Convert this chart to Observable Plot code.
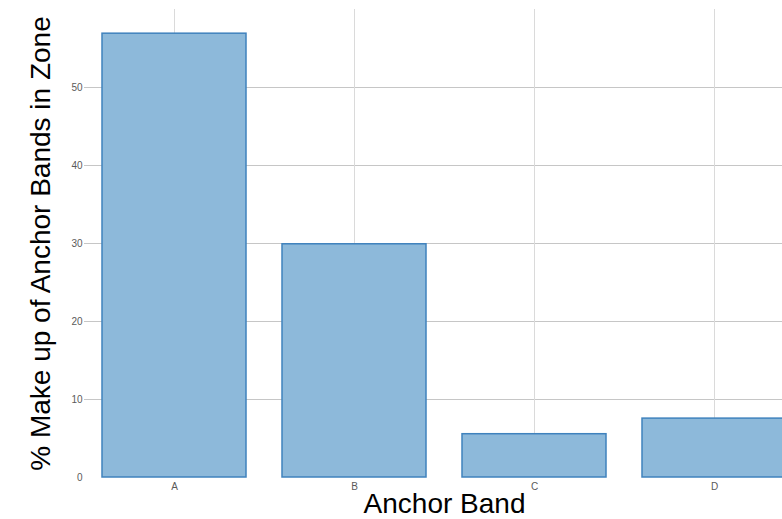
<!DOCTYPE html>
<html><head><meta charset="utf-8">
<script src="https://cdn.jsdelivr.net/npm/d3@7"></script>
<script src="https://cdn.jsdelivr.net/npm/@observablehq/plot@0.6"></script>
<style>
html,body{margin:0;padding:0;overflow:hidden;background:#fff}
svg{max-width:none !important;}
</style>
</head><body><div id="chart"></div>
<script>
const categories = ["A", "B", "C", "D"];
const values = [56.9, 29.9, 5.55, 7.55];
const yTicks = [0, 10, 20, 30, 40, 50];
const gridTicks = [10, 20, 30, 40, 50];
const xTitle = "Anchor Band";
const yTitle = "% Make up of Anchor Bands in Zone";

const data = categories.map((c, i) => ({band: c, value: values[i]}));

const chart = Plot.plot({
  width: 804,
  height: 519,
  marginLeft: 84,
  marginRight: 0,
  marginTop: 9,
  marginBottom: 42,
  style: {fontFamily: "'Liberation Sans', Arial, sans-serif", background: "#fff", maxWidth: "none"},
  x: {domain: categories, paddingInner: 0.2, paddingOuter: 0.1, axis: null},
  y: {domain: [0, 60], axis: null},
  marks: [
    Plot.ruleY(gridTicks, {stroke: "#c6c6c6", strokeWidth: 1}),
    Plot.ruleX(categories, {stroke: "#dadada", strokeWidth: 1}),
    Plot.barY(data, {x: "band", y: "value", fill: "#8db9da", stroke: "#3f82bd", strokeWidth: 1.5}),
    Plot.axisY(yTicks, {tickSize: 0, tickPadding: 2, fontSize: 10, color: "#5a5a5a", label: null}),
    Plot.axisX({tickSize: 0, tickPadding: 5, fontSize: 10, color: "#5a5a5a", label: null}),
    Plot.text([yTitle], {frameAnchor: "left", rotate: -90, dx: -43, fontSize: 28, fill: "#000", textAnchor: "middle", lineAnchor: "middle"}),
    Plot.text([xTitle], {frameAnchor: "bottom", dy: 27, fontSize: 28, fill: "#000", textAnchor: "middle", lineAnchor: "middle"})
  ]
});
document.getElementById("chart").appendChild(chart);
</script>
</body></html>
